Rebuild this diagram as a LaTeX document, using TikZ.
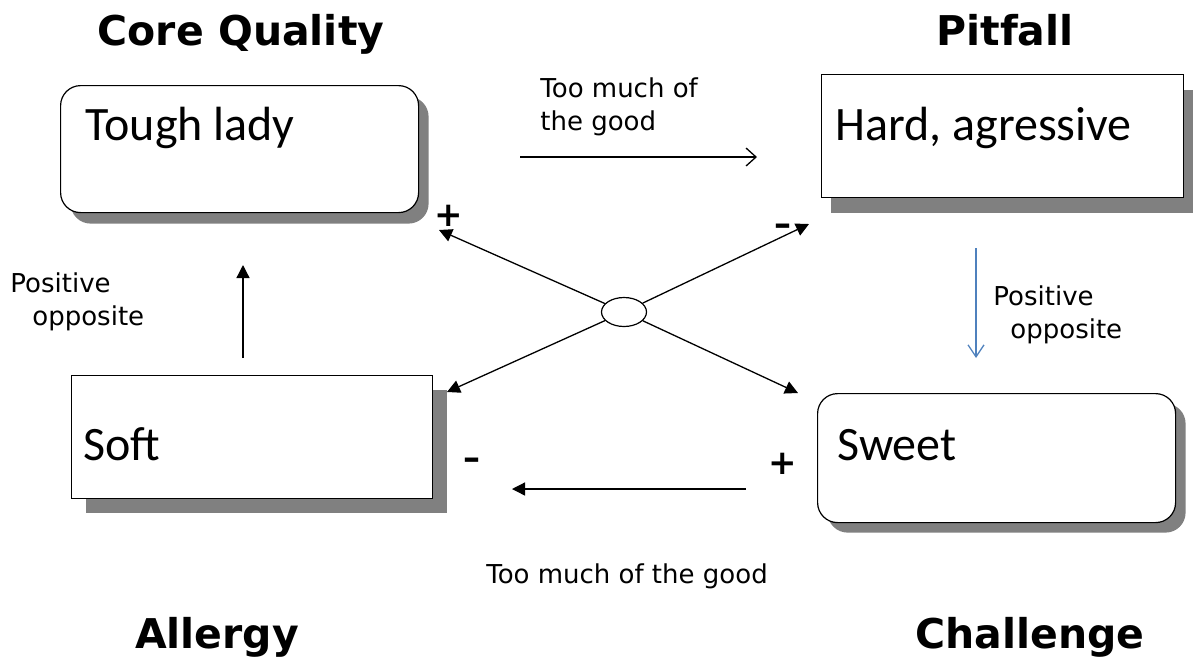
\documentclass[tikz,border=0pt]{standalone}
\usepackage{fontspec}
\setmainfont{Carlito}
\newfontfamily\comicfont{DejaVu Sans}
\usepackage{xcolor}
\usepackage{tikz}
\usetikzlibrary{arrows.meta,shapes,positioning}
\usetikzlibrary{shapes.geometric,shadows}

\definecolor{oppblue}{RGB}{79,129,189}
\definecolor{shadegray}{RGB}{128,128,128}

\tikzset{
  qbox/.style={draw,line width=0.6pt,fill=white,anchor=north west,inner sep=0pt},
  qshade/.style 2 args={drop shadow={shadow xshift=#1,shadow yshift=-#2,fill=shadegray,opacity=1}},
  qtext/.style={anchor=base west,inner sep=0pt,font=\fontsize{24}{28}\selectfont},
  qtitle/.style={anchor=base,inner sep=0pt,font=\comicfont\bfseries\fontsize{20.5}{24}\selectfont},
  qnote/.style={anchor=north west,inner sep=0pt,align=left,font=\comicfont\fontsize{13}{16.5}\selectfont},
  qsign/.style={inner sep=0pt,font=\comicfont\bfseries\fontsize{17}{17}\selectfont},
  solidtip/.style={line width=0.65pt,-{Triangle[length=6.5pt,width=6.5pt]}},
  opentip/.style={line width=0.65pt,-{Straight Barb[length=5pt,width=9pt]}}
}

\begin{document}
\begin{tikzpicture}[x=0.5pt,y=-0.5pt]
\useasboundingbox (0,0) rectangle (1195,666);

% the four quadrant boxes
\node[qbox,qshade={5pt}{5.5pt},rounded corners=10pt,minimum width=179pt,minimum height=63.5pt] (core) at (60,85) {};
\node[qbox,qshade={4.5pt}{7.5pt},minimum width=181pt,minimum height=61.5pt] (pit) at (821,74) {};
\node[qbox,qshade={7pt}{7pt},minimum width=180.5pt,minimum height=61.5pt] (soft) at (71,375) {};
\node[qbox,qshade={5pt}{5pt},rounded corners=10pt,minimum width=179pt,minimum height=64.5pt] (sweet) at (817,393) {};

\node[qtext] (coretxt) at (85,140) {Tough lady};
\node[qtext] (pittxt) at (835,140) {Hard, agressive};
\node[qtext] (softtxt) at (83,460) {Soft};
\node[qtext] (sweettxt) at (837,460) {Sweet};

% headings
\node[qtitle] (coretitle) at (241,45) {Core Quality};
\node[qtitle] (pittitle) at (1005,45) {Pitfall};
\node[qtitle] (softtitle) at (217,648) {Allergy};
\node[qtitle] (sweettitle) at (1030,648) {Challenge};

% the cross in the middle
\node[draw,ellipse,line width=0.6pt,fill=white,inner sep=0pt,minimum width=22.5pt,minimum height=14.5pt] (hub) at (624,312) {};
\coordinate (hubNW) at (439,230);
\coordinate (hubNE) at (809,224);
\coordinate (hubSW) at (447,392);
\coordinate (hubSE) at (798,393);
\draw[solidtip] (hub) -- (hubNW);
\draw[solidtip] (hub) -- (hubNE);
\draw[solidtip] (hub) -- (hubSW);
\draw[solidtip] (hub) -- (hubSE);

\node[qsign] (plusNW) at (449,216) {+};
\node[qsign] (minusNE) at (783,230) {–};
\node[qsign] (minusSW) at (472,464) {–};
\node[qsign] (plusSE) at (783,464) {+};

% too much of the good
\coordinate (goodA) at (520,157);
\coordinate (goodB) at (757,157);
\draw[opentip] (goodA) -- (goodB);
\node[qnote] (goodtop) at (540,77) {Too much of\\the good};

\coordinate (goodC) at (746,489);
\coordinate (goodD) at (512,489);
\draw[solidtip] (goodC) -- (goodD);
\node[qnote,anchor=base] (goodbot) at (627,583) {Too much of the good};

% positive opposites
\coordinate (oppA) at (243,358);
\coordinate (oppB) at (243,265);
\draw[solidtip] (oppA) -- (oppB);
\node[qnote] (oppleft) at (10,272) {Positive\\\hspace*{11pt}opposite};

\coordinate (oppC) at (976,248);
\coordinate (oppD) at (976,358);
\draw[opentip,draw=oppblue,-{Straight Barb[length=6pt,width=8pt]}] (oppC) -- (oppD);
\node[qnote] (oppright) at (993,285) {Positive\\\hspace*{8.5pt}opposite};
\end{tikzpicture}
\end{document}
